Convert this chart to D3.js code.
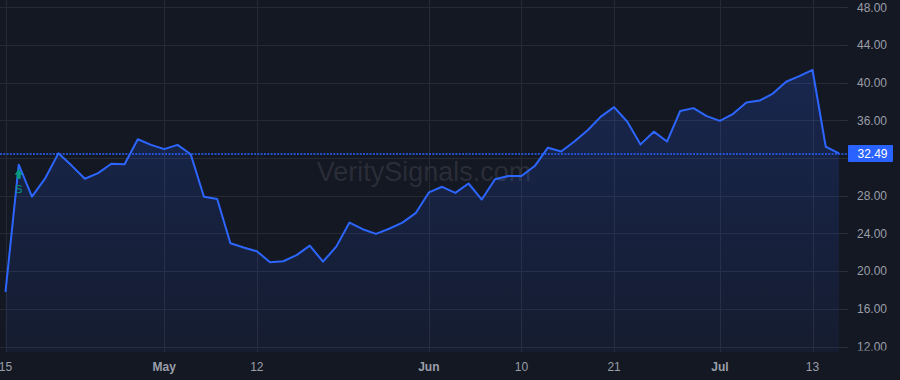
<!DOCTYPE html>
<html>
<head>
<meta charset="utf-8">
<script src="https://cdn.jsdelivr.net/npm/d3@7"></script>
<style>
  html, body { margin: 0; padding: 0; background: #141823; }
  svg { display: block; font-family: "Liberation Sans", Arial, sans-serif; }
</style>
</head>
<body>
<script>
// daily closes, one per trading day
var closes = [17.8, 31.3, 27.9, 29.85, 32.5, 31.2, 29.8, 30.4, 31.4, 31.35,
              34.0, 33.4, 32.95, 33.4, 32.4, 27.9, 27.65, 22.95, 22.5, 22.1,
              20.95, 21.05, 21.7, 22.7, 21.0, 22.6, 25.15, 24.45, 23.95, 24.5,
              25.15, 26.15, 28.35, 28.95, 28.3, 29.3, 27.6, 29.75, 30.1, 30.1,
              31.15, 33.1, 32.7, 33.75, 34.95, 36.4, 37.4, 35.85, 33.45, 34.8,
              33.75, 37.0, 37.3, 36.45, 35.95, 36.7, 37.9, 38.1, 38.85, 40.1,
              40.7, 41.35, 33.2, 32.49];
var xTickIdx = [0, 12, 19, 32, 39, 46, 54, 61];
var xTickLabels = ["15", "May", "12", "Jun", "10", "21", "Jul", "13"];
var monthLabels = ["May", "Jun", "Jul"];
var yTicks = [12, 16, 20, 24, 28, 32, 36, 40, 44, 48];
var lastPrice = 32.49;
var signalIdx = 1, signalLabel = "S";

var W = 900, H = 380;
var plotRight = 848, plotBottom = 352;

var x = d3.scaleLinear().domain([0, closes.length - 1]).range([5.5, 839]);
var y = d3.scaleLinear().domain([12, 48]).range([346.5, 7.3]);

var svg = d3.select("body").append("svg")
    .attr("width", W)
    .attr("height", H);

svg.append("rect").attr("width", W).attr("height", H).attr("fill", "#141823");

var defs = svg.append("defs");
var grad = defs.append("linearGradient")
    .attr("id", "areaFill")
    .attr("gradientUnits", "userSpaceOnUse")
    .attr("x1", 0).attr("y1", y(42)).attr("x2", 0).attr("y2", plotBottom);
grad.append("stop").attr("offset", "0%").attr("stop-color", "#2962ff").attr("stop-opacity", 0.2);
grad.append("stop").attr("offset", "100%").attr("stop-color", "#2962ff").attr("stop-opacity", 0.06);

defs.append("clipPath").attr("id", "plotClip")
    .append("rect").attr("x", 0).attr("y", 0).attr("width", plotRight).attr("height", plotBottom);

// grid
var grid = svg.append("g").attr("stroke", "#262a35").attr("stroke-width", 1);
grid.selectAll("line.h")
    .data(yTicks)
    .join("line")
    .attr("class", "h")
    .attr("x1", 0).attr("x2", plotRight)
    .attr("y1", d => Math.round(y(d)) + 0.5)
    .attr("y2", d => Math.round(y(d)) + 0.5);
grid.selectAll("line.v")
    .data(xTickIdx)
    .join("line")
    .attr("class", "v")
    .attr("y1", 0).attr("y2", plotBottom)
    .attr("x1", d => Math.round(x(d)) + 0.5)
    .attr("x2", d => Math.round(x(d)) + 0.5);

// watermark
svg.append("text")
    .attr("x", 424)
    .attr("y", 181)
    .attr("text-anchor", "middle")
    .attr("font-size", "27px")
    .attr("fill", "rgba(255,255,255,0.1)")
    .text("VeritySignals.com");

var plot = svg.append("g").attr("clip-path", "url(#plotClip)");

var area = d3.area()
    .x((d, i) => x(i))
    .y0(plotBottom)
    .y1(d => y(d));
var line = d3.line()
    .x((d, i) => x(i))
    .y(d => y(d));

plot.append("path")
    .datum(closes)
    .attr("fill", "url(#areaFill)")
    .attr("d", area);

plot.append("path")
    .datum(closes)
    .attr("fill", "none")
    .attr("stroke", "#2d66ff")
    .attr("stroke-width", 2)
    .attr("stroke-linejoin", "round")
    .attr("d", line);

// last price line
svg.append("line")
    .attr("x1", 0).attr("x2", plotRight)
    .attr("y1", Math.round(y(lastPrice)) + 1)
    .attr("y2", Math.round(y(lastPrice)) + 1)
    .attr("stroke", "#2962ff")
    .attr("stroke-width", 1.4)
    .attr("stroke-dasharray", "2,1.3");

// signal marker under the point
var sx = x(signalIdx), sy = y(closes[signalIdx]);
svg.append("path")
    .attr("d", "M" + sx + "," + (sy + 4) + " l4,6 h-2 v4 h-4 v-4 h-2 z")
    .attr("fill", "#089981");
svg.append("text")
    .attr("x", sx)
    .attr("y", sy + 28)
    .attr("text-anchor", "middle")
    .attr("font-size", "11px")
    .attr("fill", "#089981")
    .text(signalLabel);

// right price axis (labels hidden behind the price tag are skipped)
var tagY = y(lastPrice);
var shownTicks = yTicks.filter(d => Math.abs(y(d) - tagY) > 12);
var yAxis = svg.append("g");
yAxis.selectAll("line")
    .data(yTicks)
    .join("line")
    .attr("x1", plotRight - 6).attr("x2", plotRight)
    .attr("y1", d => Math.round(y(d)) + 0.5).attr("y2", d => Math.round(y(d)) + 0.5)
    .attr("stroke", "#2a2e39");
yAxis.selectAll("text")
    .data(shownTicks)
    .join("text")
    .attr("x", 857)
    .attr("y", d => y(d) + 4.3)
    .attr("font-size", "12px")
    .attr("fill", "#9a9ea8")
    .text(d => d3.format(".2f")(d));

// the lowest price label is cut by the time axis pane, like the original
svg.append("rect")
    .attr("x", plotRight).attr("y", 350.5)
    .attr("width", W - plotRight).attr("height", H - 350.5)
    .attr("fill", "#141823");

// last price tag
svg.append("rect")
    .attr("x", 848).attr("y", tagY - 8.5)
    .attr("width", 45).attr("height", 17)
    .attr("rx", 1)
    .attr("fill", "#2962ff");
svg.append("text")
    .attr("x", 857.5)
    .attr("y", tagY + 4.3)
    .attr("font-size", "12px")
    .attr("fill", "#ffffff")
    .text(d3.format(".2f")(lastPrice));

// time axis
svg.append("g")
    .selectAll("text")
    .data(xTickIdx)
    .join("text")
    .attr("x", d => x(d))
    .attr("y", 371)
    .attr("text-anchor", "middle")
    .attr("font-size", "12px")
    .attr("fill", "#9a9ea8")
    .attr("font-weight", (d, i) => monthLabels.indexOf(xTickLabels[i]) >= 0 ? "bold" : "normal")
    .text((d, i) => xTickLabels[i]);
</script>
</body>
</html>
